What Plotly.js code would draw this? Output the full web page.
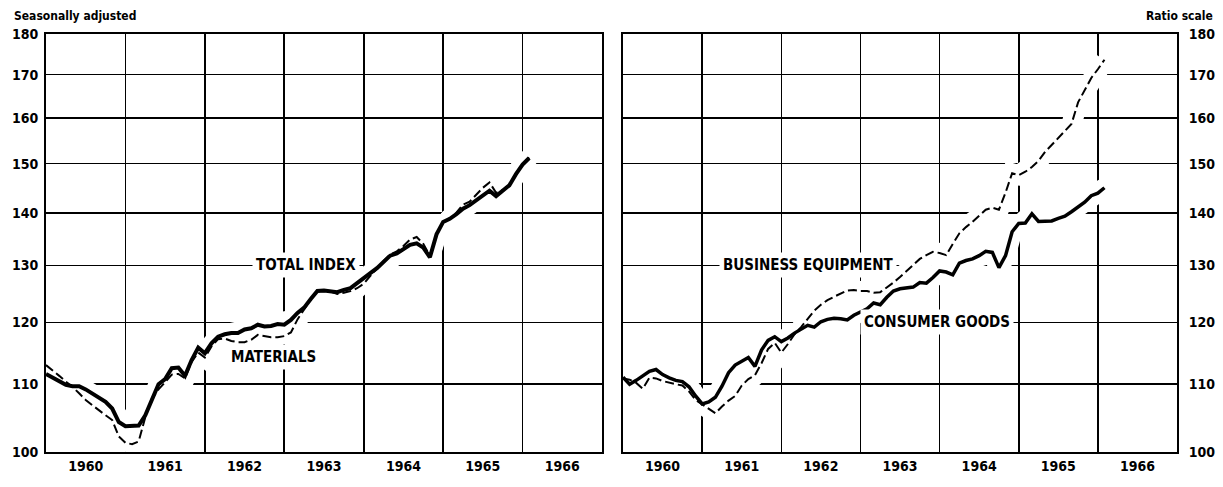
<!DOCTYPE html>
<html>
<head>
<meta charset="utf-8">
<script src="https://cdn.plot.ly/plotly-3.0.1.min.js"></script>
<style>
  html, body { margin: 0; padding: 0; background: #fff; }
  #chart { width: 1223px; height: 487px; }
</style>
</head>
<body>
<div id="chart"></div>
<script>
// ---- Data (monthly index values, 1957-59 = 100, starting January 1960) ----
const startYear = 1960;
const yearLabels = ["1960", "1961", "1962", "1963", "1964", "1965", "1966"];
const yTickValues = [100, 110, 120, 130, 140, 150, 160, 170, 180];

const totalIndex = [111.6,111.0,110.4,109.9,109.7,109.7,109.2,108.6,108.0,107.3,
  106.3,104.3,103.7,103.7,103.8,105.3,107.8,110.0,110.8,112.5,
  112.6,111.3,113.8,115.8,114.9,116.5,117.6,118.0,118.2,118.2,
  118.8,119.0,119.6,119.3,119.4,119.7,119.6,120.4,121.6,122.5,
  124.0,125.4,125.5,125.4,125.2,125.6,125.9,126.8,127.8,128.6,
  129.5,130.6,131.8,132.2,133.0,133.8,134.1,133.3,131.5,135.8,
  138.2,138.8,139.7,140.8,141.5,142.5,143.5,144.4,143.3,144.3,
  145.5,147.8,149.8,151.2];

const materials = [113.0,112.2,111.3,110.4,109.6,108.6,107.6,106.8,106.0,105.3,
  104.6,102.2,101.3,101.1,101.5,105.0,107.8,109.2,110.3,111.5,
  111.6,110.9,113.5,115.0,114.2,116.0,117.2,117.3,116.9,116.7,
  116.7,117.1,117.9,117.7,117.5,117.5,117.7,118.3,120.5,122.2,
  124.0,125.3,125.4,125.3,124.9,125.1,125.4,125.9,126.7,128.1,
  129.5,130.8,132.0,132.6,133.6,134.8,135.3,134.0,131.8,135.8,
  138.2,138.8,140.0,141.6,142.2,143.5,145.0,146.1,144.0,144.5,
  145.6,147.8,149.8,151.3];

const consumerGoods = [111.1,110.0,110.6,111.3,112.0,112.3,111.5,111.0,110.6,110.4,
  109.6,108.2,107.0,107.3,108.0,109.7,111.8,113.0,113.6,114.2,
  112.8,115.4,117.0,117.6,116.8,117.4,118.2,118.8,119.5,119.2,
  120.1,120.5,120.7,120.6,120.4,121.2,121.8,122.3,123.3,123.0,
  124.3,125.4,125.8,125.9,126.1,126.9,126.8,127.8,129.0,128.8,
  128.3,130.4,130.9,131.2,131.8,132.6,132.4,129.6,131.8,136.3,
  137.9,138.0,139.8,138.3,138.3,138.4,138.9,139.3,140.2,141.2,
  142.1,143.4,143.9,145.0];

const businessEquipment = [110.9,110.7,110.2,109.3,111.0,110.9,110.5,110.2,110.0,109.8,
  108.9,107.6,106.9,106.3,105.6,106.6,107.5,108.2,109.8,110.8,
  111.4,113.3,115.6,116.6,115.0,116.4,118.0,119.2,120.6,122.0,
  123.0,123.8,124.4,125.0,125.5,125.6,125.4,125.4,125.1,125.2,
  126.0,126.9,127.9,129.0,130.2,131.2,131.9,132.5,132.3,131.9,
  134.0,136.0,137.2,138.2,139.4,140.6,141.0,140.6,144.0,148.0,
  147.6,148.3,149.3,150.6,152.5,154.0,155.3,157.0,158.6,163.5,
  166.5,169.2,171.3,173.6];

// ---- Build traces ----
const monthX = (arr) => arr.map((_, i) => startYear + i / 12);
const FONT = "DejaVu Sans Condensed, DejaVu Sans, sans-serif";

function halo(y, xa, ya) {
  return { x: monthX(y), y: y, xaxis: xa, yaxis: ya, type: "scatter", mode: "lines",
    line: { color: "#ffffff", width: 20 }, hoverinfo: "skip", showlegend: false };
}
function solid(y, xa, ya, name, w) {
  return { x: monthX(y), y: y, xaxis: xa, yaxis: ya, type: "scatter", mode: "lines", name: name,
    line: { color: "#000000", width: w, shape: "linear" }, showlegend: false };
}
function dashed(y, xa, ya, name) {
  return { x: monthX(y), y: y, xaxis: xa, yaxis: ya, type: "scatter", mode: "lines", name: name,
    line: { color: "#000000", width: 2, dash: "9px,4px" }, showlegend: false };
}

const traces = [
  halo(totalIndex, "x", "y"), halo(materials, "x", "y"),
  halo(consumerGoods, "x2", "y2"), halo(businessEquipment, "x2", "y2"),
  dashed(materials, "x", "y", "Materials"),
  solid(totalIndex, "x", "y", "Total index", 4),
  dashed(businessEquipment, "x2", "y2", "Business equipment"),
  solid(consumerGoods, "x2", "y2", "Consumer goods", 3.5)
];

const yearBounds = yearLabels.slice(1).map((_, i) => startYear + i + 1);
const yearMids = yearLabels.map((_, i) => startYear + i + 0.5);

function xAxis(domain, anchor) {
  return {
    domain: domain, anchor: anchor, range: [startYear, startYear + yearLabels.length],
    tickmode: "array", tickvals: yearMids, ticktext: yearLabels, ticks: "",
    showgrid: false, zeroline: false,
    minor: { tickmode: "array", tickvals: yearBounds, showgrid: true, gridcolor: "#000", gridwidth: 1.6, ticks: "" },
    showline: true, mirror: true, linecolor: "#000", linewidth: 2,
    tickfont: { family: FONT, size: 14, weight: "bold", color: "#000" },
    fixedrange: true
  };
}
function yAxis(anchor, side) {
  return {
    anchor: anchor, side: side, type: "log", range: [2, Math.log10(180)],
    tickmode: "array", tickvals: yTickValues, ticktext: yTickValues.map(String), ticks: "",
    showgrid: true, gridcolor: "#000", gridwidth: 1.6, zeroline: false,
    showline: true, mirror: true, linecolor: "#000", linewidth: 2,
    ticklabelstandoff: side === "right" ? 7 : 3,
    tickfont: { family: FONT, size: 14, weight: "bold", color: "#000" },
    fixedrange: true
  };
}

function label(text, x, y, xref, yref) {
  return { text: text, x: x, y: y, xref: xref, yref: yref, showarrow: false,
    xanchor: "center", yanchor: "middle", bgcolor: "#ffffff", borderpad: 3,
    font: { family: FONT, size: 15, weight: "bold", color: "#000" } };
}

const layout = {
  width: 1223, height: 487,
  margin: { l: 46, r: 46, t: 34, b: 35 },
  paper_bgcolor: "#fff", plot_bgcolor: "#fff",
  showlegend: false,
  xaxis: xAxis([0, 0.4916], "y"),
  yaxis: yAxis("x", "left"),
  xaxis2: xAxis([0.5102, 1], "y2"),
  yaxis2: yAxis("x2", "right"),
  annotations: [
    label("TOTAL INDEX", 1963.27, Math.log10(130), "x", "y"),
    label("MATERIALS", 1962.86, Math.log10(114.3), "x", "y"),
    label("BUSINESS EQUIPMENT", 1962.34, Math.log10(130), "x2", "y2"),
    label("CONSUMER GOODS", 1963.97, Math.log10(120), "x2", "y2"),
    { text: "Seasonally adjusted", xref: "paper", yref: "paper", x: -0.03, y: 1.042,
      xanchor: "left", yanchor: "middle", showarrow: false,
      font: { family: FONT, size: 12, weight: "bold", color: "#000" } },
    { text: "Ratio scale", xref: "paper", yref: "paper", x: 1.0336, y: 1.042,
      xanchor: "right", yanchor: "middle", showarrow: false,
      font: { family: FONT, size: 12, weight: "bold", color: "#000" } }
  ]
};

Plotly.newPlot("chart", traces, layout, { staticPlot: true, displayModeBar: false });
</script>
</body>
</html>
